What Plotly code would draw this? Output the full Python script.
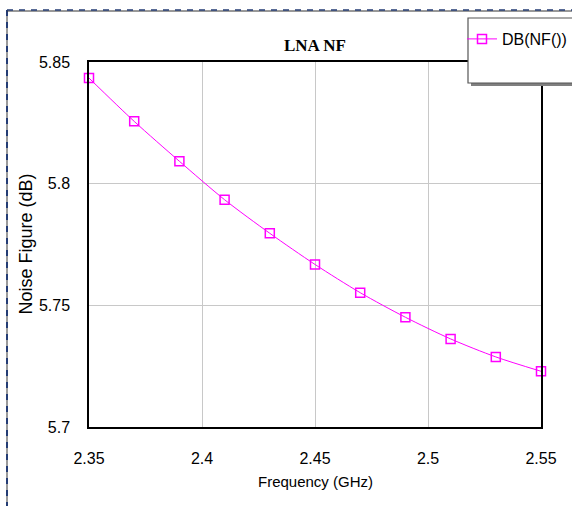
import plotly.graph_objects as go

# ---- data ----
freq_ghz = [2.35, 2.37, 2.39, 2.41, 2.43, 2.45, 2.47, 2.49, 2.51, 2.53, 2.55]
nf_db = [5.8434, 5.8256, 5.8092, 5.7934, 5.7796, 5.7668, 5.7552, 5.7451, 5.7362, 5.7288, 5.7229]
x_tickvals = [2.35, 2.4, 2.45, 2.5, 2.55]
x_ticktext = ["2.35", "2.4", "2.45", "2.5", "2.55"]
y_tickvals = [5.7, 5.75, 5.8, 5.85]
y_ticktext = ["5.7", "5.75", "5.8", "5.85"]
series_name = "DB(NF())"
title_text = "LNA NF"
x_title = "Frequency (GHz)"
y_title = "Noise Figure (dB)"

W, H = 572, 506
L, R, T, B = 89, 541, 62, 427
pw, ph = R - L, B - T

def px(x):
    return (x - L) / pw

def py(y):
    return (B - y) / ph

sans = "Arial, Liberation Sans, sans-serif"
MAG = "#ff00ff"

fig = go.Figure()
fig.add_trace(go.Scatter(
    x=freq_ghz, y=nf_db, mode="lines+markers", name=series_name,
    line=dict(color=MAG, width=1, shape="spline", smoothing=0.8),
    marker=dict(symbol="square-open", size=9, color=MAG, line=dict(color=MAG, width=1.5)),
    cliponaxis=False,
))

fig.update_layout(
    width=W, height=H,
    margin=dict(l=L, r=W - R, t=T, b=H - B, autoexpand=False),
    paper_bgcolor="white", plot_bgcolor="white",
    showlegend=True,
    legend=dict(x=px(462), y=py(22), xanchor="left", yanchor="top",
                bgcolor="rgba(0,0,0,0)", borderwidth=0,
                font=dict(family=sans, size=16, color="black"),
                itemwidth=30),
    xaxis=dict(range=[2.35, 2.55], tickvals=x_tickvals, ticktext=x_ticktext,
               showgrid=True, gridcolor="#c8c8c8", gridwidth=1,
               showline=True, linecolor="black", linewidth=1.5, mirror=True,
               zeroline=False, ticks="", ticklabelstandoff=16, automargin=False,
               tickfont=dict(family=sans, size=16, color="black")),
    yaxis=dict(range=[5.7, 5.85], tickvals=y_tickvals, ticktext=y_ticktext,
               showgrid=True, gridcolor="#c8c8c8", gridwidth=1,
               showline=True, linecolor="black", linewidth=1.5, mirror=True,
               zeroline=False, ticks="", ticklabelstandoff=14, automargin=False,
               tickfont=dict(family=sans, size=16, color="black")),
    annotations=[
        dict(text="<b>" + title_text + "</b>", xref="paper", yref="paper",
             x=0.5, y=py(45), xanchor="center", yanchor="middle", showarrow=False,
             font=dict(family="Liberation Serif, Times New Roman, serif", size=17, color="black")),
        dict(text=x_title, xref="paper", yref="paper",
             x=0.5, y=py(481), xanchor="center", yanchor="middle", showarrow=False,
             font=dict(family=sans, size=15, color="black")),
        dict(text=y_title, xref="paper", yref="paper", textangle=-90,
             x=px(25), y=0.5, xanchor="center", yanchor="middle", showarrow=False,
             font=dict(family=sans, size=18, color="black")),
    ],
    shapes=[
        # outer dashed frame
        dict(type="line", xref="paper", yref="paper", x0=px(7), x1=px(7), y0=py(10), y1=py(520),
             line=dict(color="#9a9a9a", width=2)),
        dict(type="line", xref="paper", yref="paper", x0=px(7), x1=px(7), y0=py(10), y1=py(520),
             line=dict(color="#243c74", width=2, dash="6px,6px")),
        dict(type="line", xref="paper", yref="paper", x0=px(7), x1=px(580), y0=py(11), y1=py(11),
             line=dict(color="#333333", width=1)),
        dict(type="line", xref="paper", yref="paper", x0=px(7), x1=px(580), y0=py(10), y1=py(10),
             line=dict(color="#243c74", width=1.5, dash="6px,6px")),
        # legend box shadow and box
        dict(type="rect", xref="paper", yref="paper", layer="above",
             x0=px(471), x1=px(580), y0=py(86), y1=py(21),
             fillcolor="#808080", line=dict(width=0)),
        dict(type="rect", xref="paper", yref="paper", layer="above",
             x0=px(468), x1=px(578), y0=py(83), y1=py(18),
             fillcolor="white", line=dict(color="#555555", width=1.2)),
    ],
)

fig.write_html("out.html")
